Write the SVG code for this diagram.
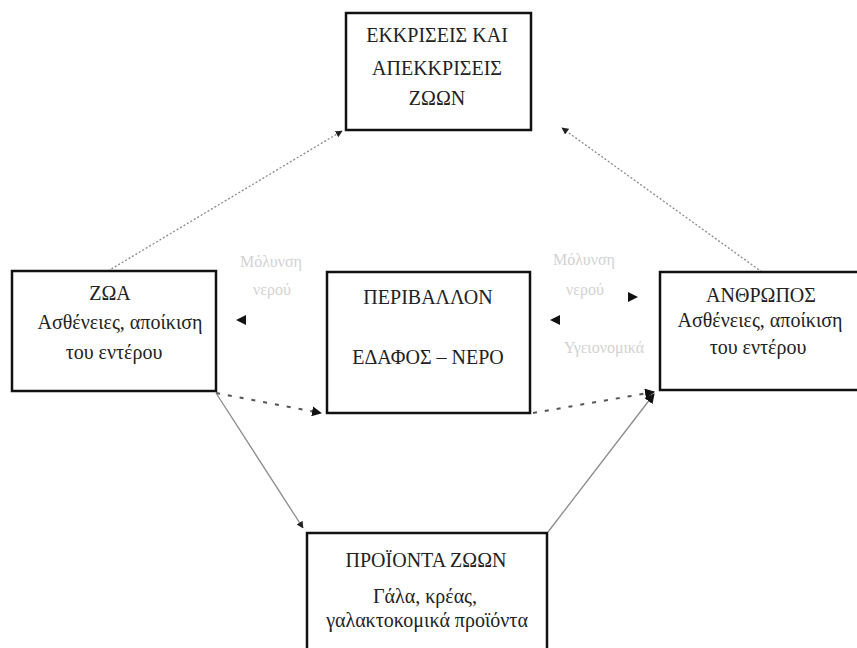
<svg xmlns="http://www.w3.org/2000/svg" width="857" height="648" viewBox="0 0 857 648">
<style>
.box{fill:#fff;stroke:#111;stroke-width:2.5}
.t{font-family:"Liberation Serif","DejaVu Serif",serif;font-size:20px;fill:#222;text-anchor:middle}
.f{font-family:"Liberation Serif","DejaVu Serif",serif;font-size:16px;fill:#d2d2d2;text-anchor:middle}
.dot{stroke:#8a8a8a;stroke-width:1.3;stroke-dasharray:2 2;fill:none}
.sol{stroke:#8a8a8a;stroke-width:1.3;fill:none}
.dash{stroke:#555;stroke-width:2;stroke-dasharray:4 8;fill:none}
</style>
<defs>
<marker id="ah" viewBox="0 0 10 10" refX="9" refY="5" markerWidth="7" markerHeight="7" markerUnits="userSpaceOnUse" orient="auto"><path d="M0,0 L10,5 L0,10 z" fill="#222"/></marker>
<marker id="ahb" viewBox="0 0 10 10" refX="9" refY="5" markerWidth="10" markerHeight="10" markerUnits="userSpaceOnUse" orient="auto"><path d="M0,0 L10,5 L0,10 z" fill="#111"/></marker>
</defs>
<g id="connectors">
<line class="dot" x1="108" y1="271" x2="342" y2="131" marker-end="url(#ah)"/>
<line class="dot" x1="762" y1="272" x2="562" y2="128" marker-end="url(#ah)"/>
<line class="dash" x1="216" y1="393" x2="321" y2="413" marker-end="url(#ahb)"/>
<line class="dash" x1="533" y1="413" x2="654" y2="392" marker-end="url(#ahb)"/>
<line class="sol" x1="216" y1="393" x2="303" y2="528" marker-end="url(#ah)"/>
<line class="sol" x1="548" y1="532" x2="654" y2="394" marker-end="url(#ahb)"/>
<path d="M236,320 L246,315 L246,325 z" fill="#111"/>
<path d="M550,320 L560,315 L560,325 z" fill="#111"/>
<path d="M638,297 L628,292 L628,302 z" fill="#111"/>
</g>
<g id="labels">
<text class="f" x="271" y="267">Μόλυνση</text>
<text class="f" x="272" y="295">νερού</text>
<text class="f" x="584" y="265">Μόλυνση</text>
<text class="f" x="585" y="295">νερού</text>
<text class="f" x="604" y="353">Υγειονομικά</text>
</g>
<g id="n-top">
<rect class="box" x="346" y="13" width="185" height="117"/>
<text class="t" x="437" y="42">ΕΚΚΡΙΣΕΙΣ ΚΑΙ</text>
<text class="t" x="437" y="75">ΑΠΕΚΚΡΙΣΕΙΣ</text>
<text class="t" x="437" y="105">ΖΩΩΝ</text>
</g>
<g id="n-zoa">
<rect class="box" x="12" y="271" width="204" height="120"/>
<text class="t" x="110" y="300">ΖΩΑ</text>
<text class="t" x="120" y="329">Ασθένειες, αποίκιση</text>
<text class="t" x="114" y="359">του εντέρου</text>
</g>
<g id="n-env">
<rect class="box" x="327" y="272" width="203" height="141"/>
<text class="t" x="428" y="304">ΠΕΡΙΒΑΛΛΟΝ</text>
<text class="t" x="428" y="364">ΕΔΑΦΟΣ – ΝΕΡΟ</text>
</g>
<g id="n-human">
<rect class="box" x="660" y="272" width="220" height="118"/>
<text class="t" x="761" y="302">ΑΝΘΡΩΠΟΣ</text>
<text class="t" x="760" y="327">Ασθένειες, αποίκιση</text>
<text class="t" x="758" y="354">του εντέρου</text>
</g>
<g id="n-products">
<rect class="box" x="307" y="533" width="240" height="130"/>
<text class="t" x="426" y="567">ΠΡΟΪΟΝΤΑ ΖΩΩΝ</text>
<text class="t" x="425" y="603">Γάλα, κρέας,</text>
<text class="t" x="427" y="627">γαλακτοκομικά προϊόντα</text>
</g>
</svg>
